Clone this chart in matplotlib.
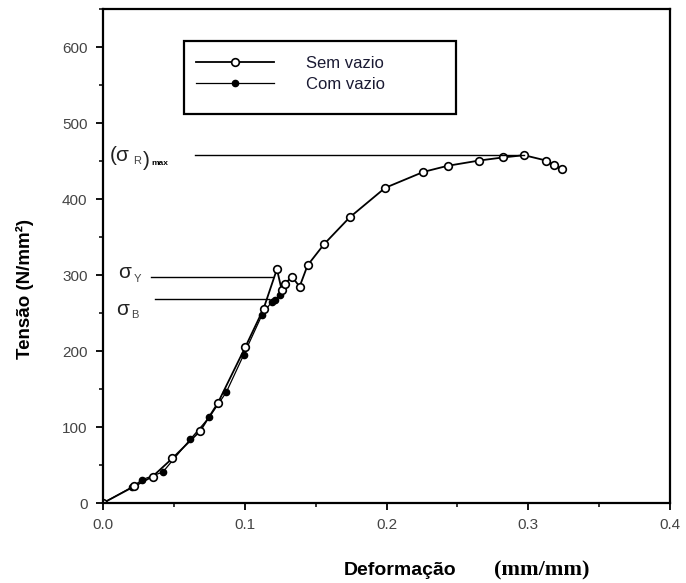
import matplotlib
matplotlib.use('Agg')
from matplotlib import pyplot as plt
from matplotlib.ticker import MultipleLocator
from matplotlib.patches import Rectangle

plt.rcParams['font.family'] = ['Liberation Sans', 'DejaVu Sans']

# Sem vazio (open circles)
sem_x = [0.0, 0.022, 0.035, 0.049, 0.0686, 0.0811, 0.1003, 0.1133, 0.1227,
         0.126, 0.1285, 0.1333, 0.1387, 0.1443, 0.156, 0.1739, 0.199, 0.226,
         0.243, 0.2654, 0.282, 0.297, 0.3124, 0.318, 0.3237]
sem_y = [0, 22, 35, 59, 95, 132, 205, 256, 308,
         281, 289, 298, 285, 313, 341, 376, 415, 436,
         444, 451, 455, 458, 451, 445, 440]

# Com vazio (filled circles)
com_x = [0.0, 0.0204, 0.0279, 0.0423, 0.0616, 0.075, 0.087, 0.0992, 0.112,
         0.119, 0.1215, 0.125]
com_y = [0, 21, 31, 41, 84, 113, 146, 195, 247, 265, 267, 274]

sig_R = 458
sig_Y = 297
sig_B = 269

fig = plt.figure(figsize=(6.86, 5.83), dpi=100)
ax = fig.add_axes([0.150, 0.137, 0.827, 0.847])

l_com, = ax.plot(com_x, com_y, '-o', color='black', lw=0.9, ms=4.5, mfc='black', mec='black')
l_sem, = ax.plot(sem_x, sem_y, '-o', color='black', lw=1.3, ms=5.5, mfc='white', mec='black', mew=1.2)

# annotation lines
ax.plot([0.065, 0.297], [sig_R, sig_R], color='black', lw=1)
ax.plot([0.034, 0.120], [sig_Y, sig_Y], color='black', lw=1)
ax.plot([0.037, 0.117], [sig_B, sig_B], color='black', lw=1)


def sigma_label(x, y, sub, paren=False, extra=None):
    main = '(σ' if paren else 'σ'
    t = ax.annotate(main, (x, y), fontsize=15, va='center', ha='left', color='#222222')
    t2 = ax.annotate(sub, (1, 0), xycoords=t, xytext=(2, -1), textcoords='offset points',
                     fontsize=8, va='bottom', ha='left', color='#444444')
    last = t2
    if paren:
        last = ax.annotate(')', (1, 0), xycoords=t2, xytext=(2, -3), textcoords='offset points',
                           fontsize=15, va='bottom', ha='left', color='#222222')
    if extra:
        ax.annotate(extra, (1, 0), xycoords=last, xytext=(1, 2), textcoords='offset points',
                    fontsize=6, fontweight='bold', va='bottom', ha='left')


sigma_label(0.005, sig_R, 'R', paren=True, extra='max')
sigma_label(0.011, sig_Y + 6, 'Y')
sigma_label(0.009, sig_B - 14, 'B')

ax.set_xlim(0, 0.4)
ax.set_ylim(0, 650)
ax.xaxis.set_major_locator(MultipleLocator(0.1))
ax.xaxis.set_minor_locator(MultipleLocator(0.05))
ax.yaxis.set_major_locator(MultipleLocator(100))
ax.yaxis.set_minor_locator(MultipleLocator(50))
ax.xaxis.set_major_formatter(plt.FuncFormatter(lambda v, p: '%.1f' % v))
ax.tick_params(which='major', direction='out', length=5, width=1.3, labelsize=11,
               labelcolor='#444444', pad=6)
ax.tick_params(which='minor', direction='out', length=3, width=1.1)
for s in ax.spines.values():
    s.set_linewidth(1.6)

# legend: frame drawn separately
ax.add_patch(Rectangle((0.143, 0.788), 0.48, 0.148, transform=ax.transAxes,
                       fill=False, edgecolor='black', lw=1.6, zorder=5))
leg = ax.legend([l_sem, l_com], ['Sem vazio', 'Com vazio'],
                loc='upper left', bbox_to_anchor=(0.164, 0.905), frameon=False,
                fontsize=12, handlelength=4.7, borderpad=0, labelspacing=0.35,
                handletextpad=1.9, borderaxespad=0)
for t in leg.get_texts():
    t.set_color('#1a1a33')

fig.text(0.037, 0.505, 'Tensão (N/mm²)', rotation=90, fontsize=13.5, fontweight='bold',
         ha='center', va='center')
fig.text(0.583, 0.022, 'Deformação', fontsize=14, fontweight='bold', ha='center', va='center')
fig.text(0.789, 0.022, '(mm/mm)', fontsize=16, fontweight='bold', ha='center', va='center',
         family='Liberation Serif')

fig.savefig('out.png', dpi=100)
